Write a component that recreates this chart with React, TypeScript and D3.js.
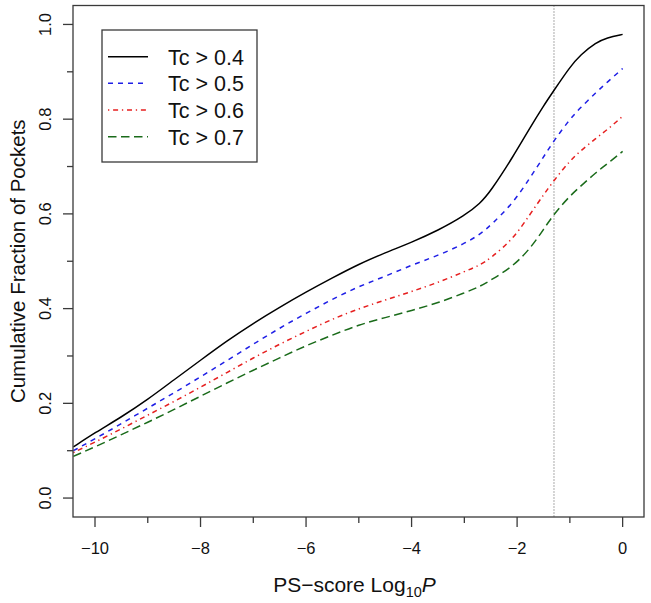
import React from "react";
import * as d3 from "d3";

const W = 651;
const H = 603;

const xKnots = [-10.41, -10, -9.5, -9, -8.5, -8, -7.5, -7, -6.5, -6, -5.5, -5, -4.5, -4, -3.5, -3, -2.7, -2.5, -2.08, -1.75, -1.5, -1.3, -1, -0.8, -0.5, -0.3, 0];

const tc04 = [0.108, 0.138, 0.171, 0.208, 0.250, 0.291, 0.332, 0.369, 0.403, 0.435, 0.465, 0.494, 0.518, 0.540, 0.565, 0.596, 0.622, 0.648, 0.720, 0.783, 0.828, 0.861, 0.910, 0.936, 0.962, 0.972, 0.979];
const tc05 = [0.100, 0.125, 0.157, 0.190, 0.222, 0.256, 0.290, 0.325, 0.359, 0.390, 0.420, 0.447, 0.468, 0.492, 0.512, 0.537, 0.557, 0.576, 0.622, 0.677, 0.720, 0.755, 0.800, 0.824, 0.857, 0.877, 0.907];
const tc06 = [0.096, 0.118, 0.146, 0.175, 0.204, 0.234, 0.265, 0.296, 0.325, 0.352, 0.378, 0.400, 0.418, 0.436, 0.455, 0.478, 0.492, 0.507, 0.546, 0.600, 0.640, 0.671, 0.712, 0.733, 0.760, 0.777, 0.806];
const tc07 = [0.088, 0.108, 0.134, 0.160, 0.187, 0.215, 0.243, 0.270, 0.296, 0.322, 0.344, 0.366, 0.381, 0.396, 0.412, 0.433, 0.447, 0.460, 0.489, 0.527, 0.567, 0.600, 0.638, 0.658, 0.688, 0.705, 0.732];

const seriesNames = ["Tc > 0.4", "Tc > 0.5", "Tc > 0.6", "Tc > 0.7"];
const seriesValues = [tc04, tc05, tc06, tc07];
const seriesColors = ["#000000", "#1f1fe6", "#e61f1f", "#1a6b1a"];
const seriesDash = [null, "5,5", "1.3,3.8,5,3.8", "8.5,4.5"];

const xMajorTicks = [-10, -8, -6, -4, -2, 0];
const xMinorTicks = [-9, -7, -5, -3, -1];
const yMajorTicks = [0, 0.2, 0.4, 0.6, 0.8, 1.0];
const yMinorTicks = [0.1, 0.3, 0.5, 0.7, 0.9];
const cutoffLine = -1.301;

const FONT = "'Liberation Sans', Arial, Helvetica, sans-serif";

export default function App() {
  const left = 73, right = 644, top = 5.5, bottom = 517;
  const x = d3.scaleLinear().domain([-10.417, 0.405]).range([left, right]);
  const y = d3.scaleLinear().domain([-0.04, 1.04]).range([bottom, top]);
  const line = d3
    .line<number>()
    .x((_, i) => x(xKnots[i]))
    .y((d) => y(d))
    .curve(d3.curveBasis);

  const axisColor = "#3a3a3a";
  const legendX = 102, legendY = 30, legendW = 155, legendH = 132;
  const rowY = [56.7, 83.3, 110, 136.7];

  return (
    <svg width={W} height={H} style={{ position: "absolute", left: 0, top: 0, background: "#fff" }} fontFamily={FONT}>
      <rect x={0} y={0} width={W} height={H} fill="#fff" />
      <defs>
        <clipPath id="plotclip">
          <rect x={left} y={top} width={right - left} height={bottom - top} />
        </clipPath>
      </defs>
      <line x1={x(cutoffLine)} x2={x(cutoffLine)} y1={top} y2={bottom} stroke="#444" strokeWidth={0.9} strokeDasharray="1,2" />
      <g clipPath="url(#plotclip)">
        {seriesValues.map((vals, i) => (
          <path
            key={i}
            d={line(vals) || ""}
            fill="none"
            stroke={seriesColors[i]}
            strokeWidth={1.5}
            strokeDasharray={seriesDash[i] || undefined}
          />
        ))}
      </g>
      <rect x={left} y={top} width={right - left} height={bottom - top} fill="none" stroke={axisColor} strokeWidth={1.3} />
      {xMajorTicks.map((t) => (
        <g key={"xm" + t}>
          <line x1={x(t)} x2={x(t)} y1={bottom} y2={bottom + 10} stroke={axisColor} strokeWidth={1.3} />
          <text x={x(t)} y={553.5} textAnchor="middle" fontSize={16.5} fill="#111">
            {t < 0 ? "\u2212" + Math.abs(t) : String(t)}
          </text>
        </g>
      ))}
      {xMinorTicks.map((t) => (
        <line key={"xn" + t} x1={x(t)} x2={x(t)} y1={bottom} y2={bottom + 6} stroke={axisColor} strokeWidth={1.3} />
      ))}
      {yMajorTicks.map((t) => (
        <g key={"ym" + t}>
          <line x1={left - 10} x2={left} y1={y(t)} y2={y(t)} stroke={axisColor} strokeWidth={1.3} />
          <text
            transform={`translate(50.5,${y(t)}) rotate(-90)`}
            textAnchor="middle"
            fontSize={16.5}
            fill="#111"
          >
            {t.toFixed(1)}
          </text>
        </g>
      ))}
      {yMinorTicks.map((t) => (
        <line key={"yn" + t} x1={left - 6} x2={left} y1={y(t)} y2={y(t)} stroke={axisColor} strokeWidth={1.3} />
      ))}
      <text x={(left + right) / 2 - 4} y={591.5} textAnchor="middle" fontSize={21} fill="#111">
        <tspan>PS{"\u2212"}score Log</tspan>
        <tspan fontSize={14.5} dy={5}>10</tspan>
        <tspan fontStyle="italic" dy={-5}>P</tspan>
      </text>
      <text
        transform={`translate(25,${(top + bottom) / 2}) rotate(-90)`}
        textAnchor="middle"
        fontSize={20.5}
        fill="#111"
      >
        Cumulative Fraction of Pockets
      </text>
      <rect x={legendX} y={legendY} width={legendW} height={legendH} fill="#fff" stroke={axisColor} strokeWidth={1.3} />
      {seriesNames.map((name, i) => (
        <g key={name}>
          <line
            x1={108}
            x2={148}
            y1={rowY[i]}
            y2={rowY[i]}
            stroke={seriesColors[i]}
            strokeWidth={1.5}
            strokeDasharray={seriesDash[i] || undefined}
          />
          <text x={168} y={rowY[i] + 7.8} fontSize={21.5} fill="#111">
            {name}
          </text>
        </g>
      ))}
    </svg>
  );
}
